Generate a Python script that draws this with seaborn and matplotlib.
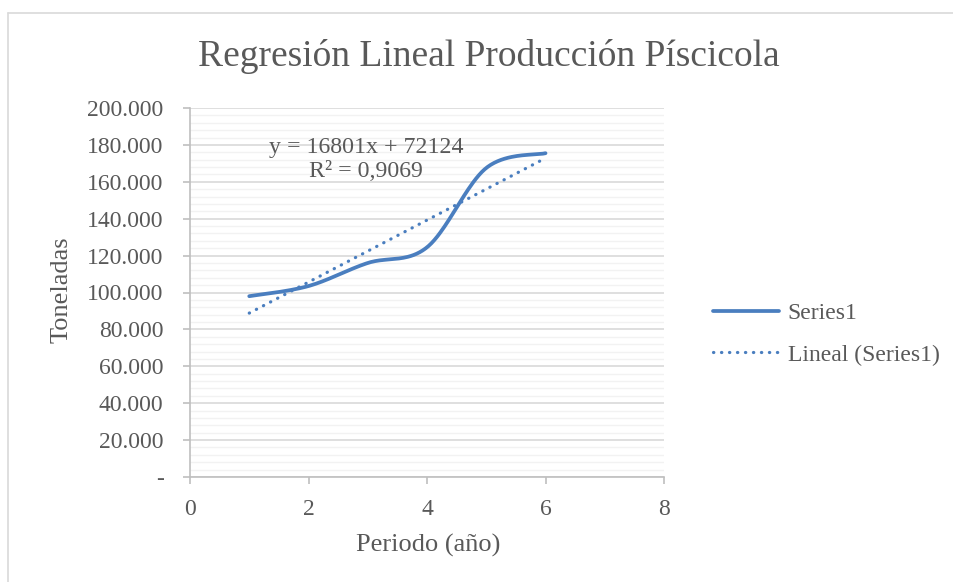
import numpy as np
import pandas as pd
import matplotlib
matplotlib.use("Agg")
import matplotlib.pyplot as plt
from matplotlib.lines import Line2D
from matplotlib.ticker import MultipleLocator, FuncFormatter
import seaborn as sns

# ---- data ----
periodo = [1, 2, 3, 4, 5, 6]
toneladas = [98000, 103500, 116000, 124500, 167500, 175500]
title = "Regresión Lineal Producción Píscicola"
x_label = "Periodo (año)"
y_label = "Toneladas"
series_label = "Series1"
trend_label = "Lineal (Series1)"
eq_text = "y = 16801x + 72124"
r2_text = "R² = 0,9069"
x_ticks = [0, 2, 4, 6, 8]
y_ticks = [0, 20000, 40000, 60000, 80000, 100000, 120000, 140000, 160000, 180000, 200000]

BLUE = "#4A7EBF"
TXT = "#595959"
DOTS = (0, (0.1, 2.4))

sns.set_theme(style="white")
plt.rcParams["font.family"] = ["Liberation Serif", "DejaVu Serif"]


def excel_smooth(xs, ys, n=40):
    """Render a smoothed (Bezier, Catmull-Rom style) curve through the points, as Excel does."""
    P = np.column_stack([xs, ys]).astype(float)
    out = []
    m = len(P)
    for i in range(m - 1):
        p0 = P[i - 1] if i > 0 else P[i]
        p1 = P[i]
        p2 = P[i + 1]
        p3 = P[i + 2] if i + 2 < m else P[i + 1]
        c1 = p1 + (p2 - p0) / 6.0
        c2 = p2 - (p3 - p1) / 6.0
        t = np.linspace(0, 1, n, endpoint=(i == m - 2))[:, None]
        b = ((1 - t) ** 3) * p1 + 3 * ((1 - t) ** 2) * t * c1 + 3 * (1 - t) * t ** 2 * c2 + t ** 3 * p2
        out.append(b)
    out = np.vstack(out)
    return out[:, 0], out[:, 1]


sx, sy = excel_smooth(periodo, toneladas)
curve = pd.DataFrame({"x": sx, "y": sy})
df = pd.DataFrame({"Periodo": periodo, "Toneladas": toneladas})

fig = plt.figure(figsize=(9.54, 5.82), dpi=100)
ax = fig.add_axes([190 / 954, 1 - 477 / 582, (664 - 190) / 954, (477 - 108) / 582])

sns.regplot(data=df, x="Periodo", y="Toneladas", ax=ax, scatter=False, ci=None,
            truncate=True, color=BLUE,
            line_kws=dict(linestyle=DOTS, linewidth=2.3,
                          dash_capstyle="round", zorder=3))
sns.lineplot(data=curve, x="x", y="y", ax=ax, color=BLUE, linewidth=2.7,
             sort=False, estimator=None, zorder=4)

ax.set_xlim(0, 8)
ax.set_ylim(0, 200000)
ax.set_xticks(x_ticks)
ax.set_yticks(y_ticks)
ax.yaxis.set_minor_locator(MultipleLocator(4000))
ax.yaxis.set_major_formatter(FuncFormatter(
    lambda v, p: "-" if v == 0 else f"{v:,.0f}".replace(",", ".")))
ax.xaxis.set_major_formatter(FuncFormatter(lambda v, p: f"{v:.0f}"))

ax.grid(axis="y", which="major", color="#D9D9D9", linewidth=1.2, zorder=0)
ax.grid(axis="y", which="minor", color="#F2F2F2", linewidth=1.0, zorder=0)
ax.grid(axis="x", which="both", visible=False)
ax.set_axisbelow(True)

for s in ["top", "right"]:
    ax.spines[s].set_visible(False)
for s in ["left", "bottom"]:
    ax.spines[s].set_color("#BFBFBF")
    ax.spines[s].set_linewidth(1.2)

ax.tick_params(axis="y", which="major", left=True, length=5, width=1.2, color="#BFBFBF",
               labelsize=17, labelcolor=TXT, pad=14)
ax.tick_params(axis="y", which="minor", left=False)
ax.tick_params(axis="x", which="major", bottom=True, length=5, width=1.2, color="#BFBFBF",
               labelsize=17, labelcolor=TXT, pad=11)

ax.set_xlabel("")
ax.set_ylabel("")
fig.text(428 / 954, 1 - 545 / 582, x_label, ha="center", va="center", fontsize=19, color=TXT)
fig.text(62 / 954, 1 - 290 / 582, y_label, ha="center", va="center", rotation=90,
         fontsize=19, color=TXT)
fig.text(489 / 954, 1 - 57 / 582, title, ha="center", va="center", fontsize=27, color=TXT)

fig.text(366 / 954, 1 - 147 / 582, eq_text, ha="center", va="center", fontsize=17.2, color=TXT)
fig.text(366 / 954, 1 - 171 / 582, r2_text, ha="center", va="center", fontsize=17.2, color=TXT)

handles = [Line2D([], [], color=BLUE, linewidth=2.7),
           Line2D([], [], color=BLUE, linewidth=2.3, linestyle=DOTS,
                  dash_capstyle="round")]
leg = fig.legend(handles, [series_label, trend_label], loc="center left",
                 bbox_to_anchor=(692 / 954, 1 - 334 / 582), frameon=False,
                 fontsize=17, handlelength=2.8, handletextpad=0.35, labelspacing=0.85)
for t in leg.get_texts():
    t.set_color(TXT)

# chart border (top and left visible)
fig.add_artist(Line2D([8.5 / 954, 8.5 / 954], [0, 1 - 13 / 582], transform=fig.transFigure,
                      color="#D9D9D9", linewidth=1.2))
fig.add_artist(Line2D([8.5 / 954, 1], [1 - 13 / 582, 1 - 13 / 582], transform=fig.transFigure,
                      color="#D9D9D9", linewidth=1.2))

fig.savefig("out.png", dpi=100)
